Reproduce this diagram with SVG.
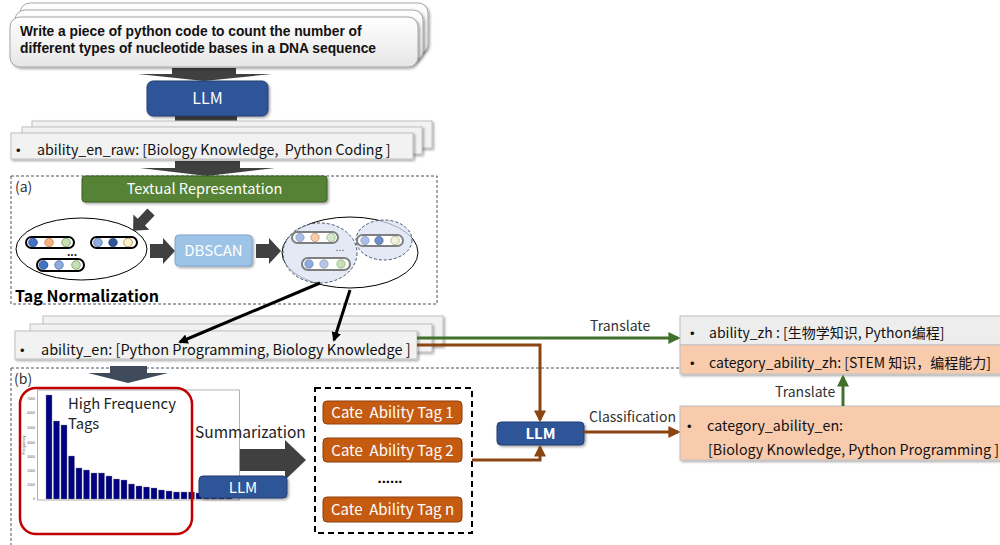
<svg xmlns="http://www.w3.org/2000/svg" width="1000" height="545" viewBox="0 0 1000 545">
<style>
.cjk{font-family:"Noto Sans CJK SC","Noto Sans",sans-serif}
.pre{white-space:pre}
.bul{font-family:"Liberation Sans",Arial,sans-serif}
.wt{fill:#fff}
.pg{fill:#F2F2F2;stroke:#BFBFBF;stroke-width:1}
.pill{fill:#fff;stroke:#000;stroke-width:2}
.pillg{fill:#fff;stroke:#7F7F7F;stroke-width:2}
.dash{fill:none;stroke:#44546A;stroke-width:1;stroke-dasharray:3 2}
.blk{fill:#404040}
.bar{fill:#000080;stroke:#888;stroke-width:0.4}
.tick{font-family:"Liberation Sans",sans-serif;font-size:3.5px;fill:#555;text-anchor:end}
.lbl{font-family:"Noto Sans CJK SC","Noto Sans",sans-serif;font-size:14px;fill:#333}
.grn{stroke:#41712A;stroke-width:3;fill:none}
.brn{stroke:#8B4513;stroke-width:3;fill:none}
.llm{fill:#2F5597;stroke:#243F73;stroke-width:1}
.cate{fill:#C55A11;stroke:#8E3F0A;stroke-width:1}
</style>
<defs>
<filter id="sh" x="-10%" y="-20%" width="130%" height="160%"><feDropShadow dx="1.5" dy="1.5" stdDeviation="1.2" flood-color="#000" flood-opacity="0.35"/></filter>
<linearGradient id="gp" x1="0" y1="0" x2="0" y2="1"><stop offset="0" stop-color="#FFFFFF"/><stop offset="1" stop-color="#E6E6E6"/></linearGradient>
<marker id="ag" viewBox="0 0 10 10" refX="8" refY="5" markerWidth="4" markerHeight="4" orient="auto" markerUnits="strokeWidth"><path d="M0,0 L10,5 L0,10 z" fill="#41712A"/></marker>
<marker id="ab" viewBox="0 0 10 10" refX="8" refY="5" markerWidth="4" markerHeight="4" orient="auto" markerUnits="strokeWidth"><path d="M0,0 L10,5 L0,10 z" fill="#8B4513"/></marker>
<marker id="ak" viewBox="0 0 10 10" refX="8" refY="5" markerWidth="3.2" markerHeight="3.2" orient="auto" markerUnits="strokeWidth"><path d="M0,0 L10,5 L0,10 z" fill="#000"/></marker>
</defs>
<rect width="1000" height="545" fill="#fff"/>

<!-- section frames -->
<g id="section-a"><rect x="11" y="176" width="426" height="128" class="dash"/>
<text x="15" y="192" class="cjk" font-size="14" fill="#333">(a)</text></g>
<g id="section-b"><path d="M11,368 H680 M11,368 V545" class="dash"/>
<text x="14" y="384" class="cjk" font-size="14" fill="#333">(b)</text></g>

<!-- block arrows -->
<g id="block-arrows">
<polygon class="blk" points="172,68 236,68 236,74 272,74 204,81 138,74 172,74"/>
<polygon class="blk" points="175,116 237,116 237,122 273,122 206,130 139,122 175,122"/>
<polygon class="blk" points="175,161 240,161 240,168 275,168 207,176 140,168 175,168"/>
<polygon fill="#3F4B5B" points="110,366 147,366 147,373 168,373 128,383 88,373 110,373"/>
<polygon class="blk" transform="translate(151,212) rotate(133.5)" points="0,-5 14,-5 14,-11 26,0 14,11 14,5 0,5"/>
<polygon class="blk" points="150,244 163,244 163,238 175,251 163,264 163,258 150,258"/>
<polygon class="blk" points="256,244 269,244 269,238 281,251 269,264 269,258 256,258"/>
<polygon fill="#404040" points="196,449 285,449 285,440 306,460 285,480 285,471 196,471"/>
</g>

<!-- prompt -->
<g id="prompt">
<rect x="20" y="3" width="408" height="51" rx="10" fill="url(#gp)" stroke="#A6A6A6" filter="url(#sh)"/>
<rect x="15" y="10" width="408" height="51" rx="10" fill="url(#gp)" stroke="#A6A6A6" filter="url(#sh)"/>
<rect x="10" y="17" width="408" height="50" rx="10" fill="url(#gp)" stroke="#A6A6A6" filter="url(#sh)"/>
<text font-family="Liberation Sans,Arial,sans-serif" font-weight="bold" font-size="13.8" fill="#111"><tspan x="20" y="36">Write a piece of python code to count the number of</tspan><tspan x="20" y="53">different types of nucleotide bases in a DNA sequence</tspan></text>
</g>

<g id="llm-top">
<rect x="147" y="81" width="121" height="35" rx="6" class="llm" filter="url(#sh)"/>
<text x="207.5" y="104" text-anchor="middle" class="cjk wt" font-size="16">LLM</text>
</g>

<g id="ability-en-raw">
<rect x="32" y="121" width="400" height="27" class="pg" filter="url(#sh)"/>
<rect x="22" y="127" width="400" height="27" class="pg" filter="url(#sh)"/>
<rect x="11" y="133" width="402" height="26" class="pg" filter="url(#sh)"/>
<text x="16" y="155" class="bul" font-size="13" fill="#111">•</text>
<text x="37" y="155" class="cjk pre" font-size="14.2" fill="#111">ability_en_raw: [Biology Knowledge,  Python Coding ]</text>
</g>

<g id="textual-rep">
<rect x="82" y="176" width="245" height="26" rx="3" fill="#548235" stroke="#3B5E25" filter="url(#sh)"/>
<text x="204.5" y="194" text-anchor="middle" class="cjk wt" font-size="14.5">Textual Representation</text>
</g>

<g id="tags-raw">
<ellipse cx="81.5" cy="249" rx="65.5" ry="31" fill="#fff" stroke="#000" stroke-width="1"/>
<rect x="26" y="237" width="48" height="11" rx="5.5" class="pill"/>
<circle cx="33" cy="242.5" r="4.3" fill="#4472C4" stroke="#2F5597"/>
<circle cx="49" cy="242.5" r="4.3" fill="#F4B183" stroke="#C55A11" stroke-width="0.6"/>
<circle cx="66" cy="242.5" r="4.3" fill="#C5E0B4" stroke="#548235" stroke-width="0.6"/>
<rect x="91" y="237" width="46" height="11" rx="5.5" class="pill"/>
<circle cx="98" cy="242.5" r="4.3" fill="#8FAADC" stroke="#2F5597" stroke-width="0.6"/>
<circle cx="113" cy="242.5" r="4.3" fill="#2F5597" stroke="#1F3864" stroke-width="0.6"/>
<circle cx="128" cy="242.5" r="4.3" fill="#FFF2CC" stroke="#7F6000" stroke-width="0.6"/>
<rect x="37" y="259" width="47" height="12" rx="6" class="pill"/>
<circle cx="43.5" cy="265" r="4.3" fill="#4472C4" stroke="#2F5597"/>
<circle cx="59" cy="265" r="4.3" fill="#8FAADC" stroke="#2F5597" stroke-width="0.6"/>
<circle cx="76" cy="265" r="4.3" fill="#C5E0B4" stroke="#548235" stroke-width="0.6"/>
<text x="72" y="256" text-anchor="middle" font-family="Liberation Sans,sans-serif" font-size="12" font-weight="bold" fill="#222">...</text>
</g>

<g id="dbscan">
<rect x="175" y="235" width="77" height="31" rx="4" fill="#9DC3E6" stroke="#7DA6D2" filter="url(#sh)"/>
<text x="213.5" y="256" text-anchor="middle" class="cjk wt" font-size="15">DBSCAN</text>
</g>

<g id="tags-clustered">
<ellipse cx="350" cy="252.5" rx="68" ry="35.5" fill="#fff" stroke="#000" stroke-width="1"/>
<ellipse cx="320" cy="253" rx="37" ry="30" fill="#DAE3F3" fill-opacity="0.75" stroke="#44546A" stroke-dasharray="3 2"/>
<ellipse cx="384" cy="240" rx="28" ry="20" fill="#DAE3F3" fill-opacity="0.75" stroke="#44546A" stroke-dasharray="3 2"/>
<rect x="292" y="232" width="46" height="11" rx="5.5" class="pillg"/>
<circle cx="300" cy="237.5" r="4.2" fill="#A9BEE6" stroke="#7F8FB0" stroke-width="0.6"/>
<circle cx="315" cy="237.5" r="4.2" fill="#F8CBAD" stroke="#B08060" stroke-width="0.6"/>
<circle cx="331" cy="237.5" r="4.2" fill="#D5E8CA" stroke="#80A070" stroke-width="0.6"/>
<rect x="357" y="235" width="46" height="11" rx="5.5" class="pillg"/>
<circle cx="365" cy="240.5" r="4.2" fill="#A9BEE6" stroke="#7F8FB0" stroke-width="0.6"/>
<circle cx="379" cy="240.5" r="4.2" fill="#6F8FC9" stroke="#4A628F" stroke-width="0.6"/>
<circle cx="395" cy="240.5" r="4.2" fill="#F2F0DA" stroke="#9A9470" stroke-width="0.6"/>
<rect x="302" y="258" width="48" height="12" rx="6" class="pillg"/>
<circle cx="309" cy="264" r="4.2" fill="#8FAADC" stroke="#5A75A8" stroke-width="0.6"/>
<circle cx="324" cy="264" r="4.2" fill="#B4C7E7" stroke="#7F8FB0" stroke-width="0.6"/>
<circle cx="341" cy="264" r="4.2" fill="#C5E0B4" stroke="#80A070" stroke-width="0.6"/>
<text x="340" y="251" text-anchor="middle" font-family="Liberation Sans,sans-serif" font-size="11" fill="#555">...</text>
</g>

<text id="tag-norm" x="15" y="302" class="cjk" font-size="16" font-weight="bold" fill="#000">Tag Normalization</text>

<g id="ability-en">
<rect x="43" y="316" width="400" height="30" class="pg" filter="url(#sh)"/>
<rect x="30" y="324" width="402" height="28" class="pg" filter="url(#sh)"/>
<rect x="15" y="331" width="402" height="28" class="pg" filter="url(#sh)"/>
<text x="20" y="355" class="bul" font-size="13" fill="#111">•</text>
<text x="41" y="355" class="cjk" font-size="14.5" fill="#111">ability_en: [Python Programming, Biology Knowledge ]</text>
</g>

<!-- chart -->
<g id="chart">
<rect x="37.5" y="390" width="202" height="110" fill="#fff" stroke="#A0A0A0" stroke-width="0.8"/>
<g>
<rect class="bar" x="46" y="395" width="6" height="104"/>
<rect class="bar" x="53.5" y="421" width="6" height="78"/>
<rect class="bar" x="61" y="425" width="6" height="74"/>
<rect class="bar" x="68.5" y="456" width="6" height="43"/>
<rect class="bar" x="76" y="468" width="6" height="31"/>
<rect class="bar" x="83.5" y="470" width="6" height="29"/>
<rect class="bar" x="91" y="473" width="6" height="26"/>
<rect class="bar" x="98.5" y="473" width="6" height="26"/>
<rect class="bar" x="106" y="476" width="6" height="23"/>
<rect class="bar" x="113.5" y="479" width="6" height="20"/>
<rect class="bar" x="121" y="480" width="6" height="19"/>
<rect class="bar" x="128.5" y="484" width="6" height="15"/>
<rect class="bar" x="136" y="486" width="6" height="13"/>
<rect class="bar" x="143.5" y="487" width="6" height="12"/>
<rect class="bar" x="151" y="488" width="6" height="11"/>
<rect class="bar" x="158.5" y="490" width="6" height="9"/>
<rect class="bar" x="166" y="491" width="6" height="8"/>
<rect class="bar" x="173.5" y="492" width="6" height="7"/>
<rect class="bar" x="181" y="492" width="6" height="7"/>
<rect class="bar" x="188.5" y="492" width="6" height="7"/>
<rect class="bar" x="196" y="493" width="6" height="6"/>
<rect class="bar" x="203.5" y="493" width="6" height="6"/>
<rect class="bar" x="211" y="494" width="6" height="5"/>
<rect class="bar" x="218.5" y="494" width="6" height="5"/>
<rect class="bar" x="226" y="495" width="6" height="4"/>
</g>
<g>
<text class="tick" x="35" y="400">7000</text>
<text class="tick" x="35" y="414">6000</text>
<text class="tick" x="35" y="429">5000</text>
<text class="tick" x="35" y="444">4000</text>
<text class="tick" x="35" y="458">3000</text>
<text class="tick" x="35" y="472">2000</text>
<text class="tick" x="35" y="486">1000</text>
<text class="tick" x="35" y="500">0</text>
<text x="25" y="445" font-family="Liberation Sans,sans-serif" font-size="4" fill="#555" text-anchor="middle" transform="rotate(-90 25 445)">Frequency</text>
</g>
<rect x="20" y="388" width="172" height="146" rx="16" fill="none" stroke="#C00000" stroke-width="2.5"/>
<text class="cjk" font-size="14.8" fill="#222"><tspan x="68" y="409">High Frequency</tspan><tspan x="68" y="429">Tags</tspan></text>
</g>

<text id="summ-label" x="195" y="438" class="cjk" font-size="15.5" fill="#222">Summarization</text>
<g id="llm-summ">
<rect x="199" y="476" width="88" height="22" rx="4" class="llm" filter="url(#sh)"/>
<text x="243" y="493" text-anchor="middle" class="cjk wt" font-size="15">LLM</text>
</g>

<g id="cate-tags">
<rect x="315" y="388" width="157" height="145" fill="none" stroke="#000" stroke-width="2" stroke-dasharray="6 4"/>
<rect x="323" y="401" width="139" height="23" rx="4" class="cate"/>
<text x="392.5" y="418" text-anchor="middle" class="cjk wt pre" font-size="15">Cate  Ability Tag 1</text>
<rect x="323" y="438" width="139" height="24" rx="4" class="cate"/>
<text x="392.5" y="456" text-anchor="middle" class="cjk wt pre" font-size="15">Cate  Ability Tag 2</text>
<text x="390" y="483" text-anchor="middle" font-family="Liberation Sans,sans-serif" font-size="15" font-weight="bold" fill="#000">......</text>
<rect x="323" y="497" width="139" height="25" rx="4" class="cate"/>
<text x="392.5" y="515" text-anchor="middle" class="cjk wt pre" font-size="15">Cate  Ability Tag n</text>
</g>

<g id="llm-class">
<rect x="497" y="422" width="87" height="23" rx="4" class="llm" filter="url(#sh)"/>
<text x="540.5" y="439" text-anchor="middle" class="cjk wt" font-size="15" font-weight="bold">LLM</text>
</g>

<g id="ability-zh">
<rect x="680" y="316" width="322" height="29" fill="#EDEDED" stroke="#BFBFBF" filter="url(#sh)"/>
<rect x="680" y="345" width="322" height="29" fill="#F8CBAD" stroke="#BFBFBF" filter="url(#sh)"/>
<text x="690" y="338" class="bul" font-size="13" fill="#111">•</text>
<text x="709" y="338" class="cjk" font-size="14" fill="#111">ability_zh : [生物学知识, Python编程]</text>
<text x="690" y="368" class="bul" font-size="13" fill="#111">•</text>
<text x="709" y="368" class="cjk" font-size="14" fill="#111">category_ability_zh: [STEM 知识，编程能力]</text>
</g>

<g id="category-en">
<rect x="680" y="406" width="322" height="54" fill="#F8CBAD" stroke="#BFBFBF" filter="url(#sh)"/>
<text x="687" y="431" class="bul" font-size="13" fill="#111">•</text>
<text x="707" y="431" class="cjk" font-size="14.3" fill="#111">category_ability_en:</text>
<text x="708" y="455" class="cjk" font-size="14.3" fill="#111">[Biology Knowledge, Python Programming ]</text>
</g>

<!-- connectors -->
<g id="connectors">
<line x1="320" y1="283" x2="180" y2="342" stroke="#000" stroke-width="3" marker-end="url(#ak)"/>
<line x1="350" y1="290" x2="334" y2="340" stroke="#000" stroke-width="3" marker-end="url(#ak)"/>
<line x1="417" y1="338" x2="678" y2="338" class="grn" marker-end="url(#ag)"/>
<path d="M417,345 H540 V420" class="brn" marker-end="url(#ab)"/>
<path d="M472,460 H540 V447" class="brn" marker-end="url(#ab)"/>
<line x1="584" y1="432" x2="678" y2="432" class="brn" marker-end="url(#ab)"/>
<line x1="843" y1="406" x2="843" y2="377" class="grn" marker-end="url(#ag)"/>
<text x="590" y="331" class="lbl">Translate</text>
<text x="775" y="397" class="lbl">Translate</text>
<text x="589" y="422" class="lbl">Classification</text>
</g>
</svg>
